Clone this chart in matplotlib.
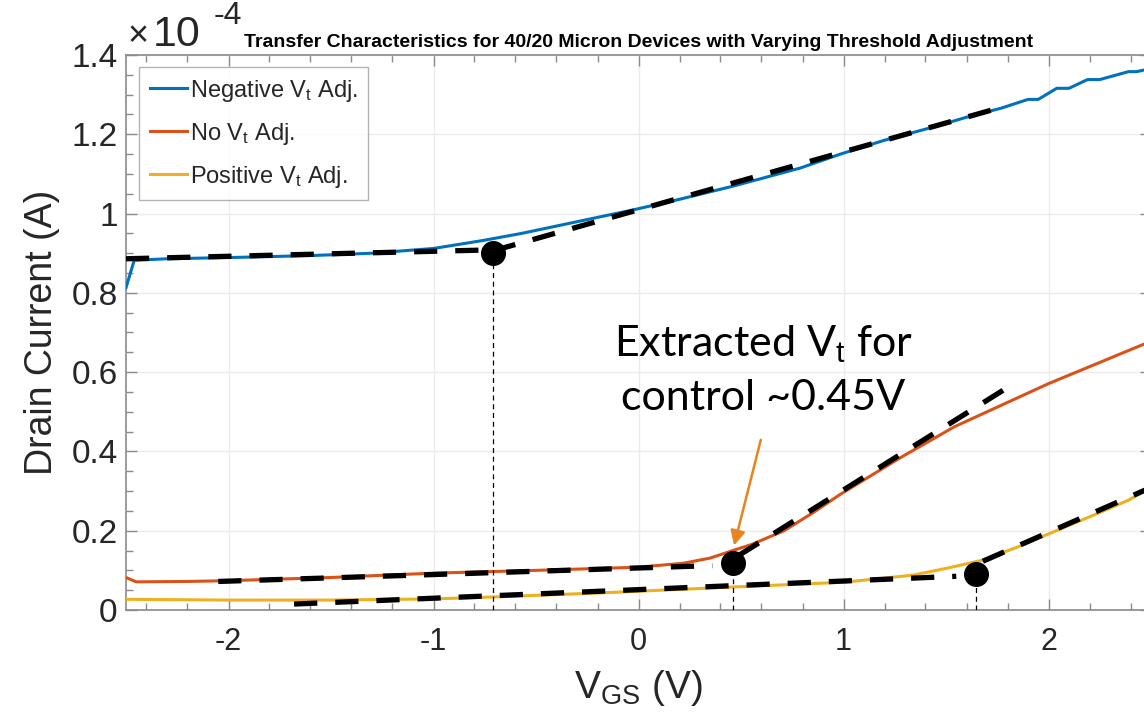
import numpy as np
import matplotlib
matplotlib.use("Agg")
import matplotlib.pyplot as plt
from matplotlib.ticker import FuncFormatter, MultipleLocator

plt.rcParams['font.family'] = ['Liberation Sans', 'DejaVu Sans']
plt.rcParams['mathtext.fontset'] = 'custom'
plt.rcParams['mathtext.rm'] = 'Liberation Sans'
plt.rcParams['mathtext.it'] = 'Liberation Sans:italic'
plt.rcParams['axes.unicode_minus'] = False

# gate voltage (V) and drain current (x1e-4 A) for each device
vgs_neg = [-2.5, -2.46, -2.3, -2.0, -1.6, -1.3, -1.0, -0.76, -0.57, -0.35, -0.02, 0.2, 0.46,
           0.79, 0.985, 1.2, 1.45, 1.6, 1.77, 1.9, 1.95, 2.04, 2.1, 2.19, 2.25, 2.39, 2.43, 2.5]
id_neg = [0.813, 0.882, 0.886, 0.889, 0.894, 0.900, 0.912, 0.932, 0.950, 0.974, 1.010, 1.036, 1.069,
          1.115, 1.150, 1.185, 1.220, 1.243, 1.266, 1.288, 1.288, 1.316, 1.316, 1.338, 1.338, 1.358, 1.358, 1.366]

vgs_none = [-2.5, -2.45, -2.2, -2.0, -1.5, -1.0, -0.5, -0.18, 0.0, 0.22, 0.35, 0.46, 0.55, 0.71,
            0.85, 0.985, 1.28, 1.54, 2.0, 2.5]
id_none = [0.082, 0.071, 0.072, 0.074, 0.082, 0.093, 0.100, 0.105, 0.108, 0.118, 0.131, 0.150, 0.165, 0.200,
           0.245, 0.292, 0.385, 0.462, 0.571, 0.678]

vgs_pos = [-2.5, -2.0, -1.5, -1.0, -0.7, -0.19, 0.46, 1.0, 1.34, 1.51, 1.68, 1.85, 2.01, 2.2, 2.39, 2.5]
id_pos = [0.027, 0.025, 0.025, 0.028, 0.033, 0.043, 0.058, 0.070, 0.088, 0.106, 0.126, 0.159, 0.194, 0.235, 0.277, 0.309]

labels = ['Negative V$_\\mathrm{t}$ Adj.', 'No V$_\\mathrm{t}$ Adj.', 'Positive V$_\\mathrm{t}$ Adj.']
colors = ['#0072BD', '#D95319', '#EDB120']

# linear fits (below / above threshold), endpoints in V and x1e-4 A
fit_v = [[-2.5, -0.75], [-0.71, 1.77], [-2.05, 0.36], [0.49, 1.79], [-1.68, 1.55], [1.68, 2.5]]
fit_i = [[0.886, 0.908], [0.906, 1.268], [0.072, 0.112], [0.138, 0.558], [0.015, 0.085], [0.123, 0.309]]

# extracted threshold points
vt_v = [-0.71, 0.463, 1.645]
vt_i = [0.900, 0.118, 0.091]

W, H = 1144, 724
fig = plt.figure(figsize=(W / 100, H / 100), dpi=100)
ax = fig.add_axes([126 / W, (H - 610) / H, (1151 - 126) / W, (610 - 55) / H])

scale = 1e-4
for v, i, c, lab in zip([vgs_neg, vgs_none, vgs_pos], [id_neg, id_none, id_pos], colors, labels):
    ax.plot(v, np.array(i) * scale, color=c, lw=2.2, label=lab, zorder=3)

for v, i in zip(fit_v, fit_i):
    ax.plot(v, np.array(i) * scale, color='black', lw=3.8, dashes=(4.4, 3.4),
            dash_capstyle='butt', zorder=4)

for v, i in zip(vt_v, vt_i):
    ax.plot([v, v], [0, i * scale], color='black', lw=0.9, dashes=(4, 3), zorder=4)
ax.plot(vt_v, np.array(vt_i) * scale, 'o', color='black', ms=17, zorder=5)

ax.set_xlim(-2.5, 2.5)
ax.set_ylim(0, 1.4e-4)
ax.xaxis.set_major_locator(MultipleLocator(1))
ax.xaxis.set_minor_locator(MultipleLocator(0.2))
ax.yaxis.set_major_locator(MultipleLocator(0.2e-4))
ax.yaxis.set_minor_locator(MultipleLocator(0.05e-4))
ax.yaxis.set_major_formatter(FuncFormatter(lambda y, p: f'{y / scale:g}'))
ax.xaxis.set_major_formatter(FuncFormatter(lambda x, p: f'{x:g}'))

ax.grid(True, which='major', color='#ebebeb', lw=1)
ax.set_axisbelow(True)
for s in ax.spines.values():
    s.set_color('#8a8a8a')
    s.set_linewidth(1.2)
ax.tick_params(which='both', direction='in', top=True, right=True, color='#8a8a8a', width=1)
ax.tick_params(which='major', length=8)
ax.tick_params(which='minor', length=5)
ax.tick_params(axis='y', labelsize=24, labelcolor='#262626', pad=6)
ax.tick_params(axis='x', labelsize=22, labelcolor='#262626', pad=12)

ax.set_xlabel('V$_\\mathrm{GS}$ (V)', fontsize=28, color='#262626', labelpad=8)
ax.set_ylabel('Drain Current (A)', fontsize=27, color='#262626', labelpad=8)

# exponent label for the y axis
fig.text(128 / W, 1 - 46 / H, '\u00d7', fontsize=26, color='#262626')
fig.text(153 / W, 1 - 46 / H, '10', fontsize=31, color='#262626')
fig.text(214 / W, 1 - 24 / H, '-4', fontsize=23, color='#262626')

ax.set_title('Transfer Characteristics for 40/20 Micron Devices with Varying Threshold Adjustment',
             fontsize=14, fontweight='bold', pad=6)

leg = ax.legend(loc='upper left', bbox_to_anchor=((139 - 126) / 1025, (610 - 67) / 555),
                borderaxespad=0, fontsize=17, frameon=True, fancybox=False,
                handlelength=1.6, handletextpad=0.1, labelspacing=0.72, borderpad=0.45)
leg.get_frame().set_edgecolor('#a0a0a0')
leg.get_frame().set_linewidth(1)
for t in leg.get_texts():
    t.set_color('#262626')

ax.text(0.61, 0.605e-4, 'Extracted V$_\\mathrm{t}$ for\ncontrol ~0.45V', fontsize=31,
        family='Lato', ha='center', va='center', linespacing=1.45, zorder=6)
ax.annotate('', xy=(0.463, 0.156e-4), xytext=(0.60, 0.436e-4),
            arrowprops=dict(arrowstyle='-|>', color='#E8831E', lw=1.8, mutation_scale=22))

fig.savefig('out.png', dpi=100)
